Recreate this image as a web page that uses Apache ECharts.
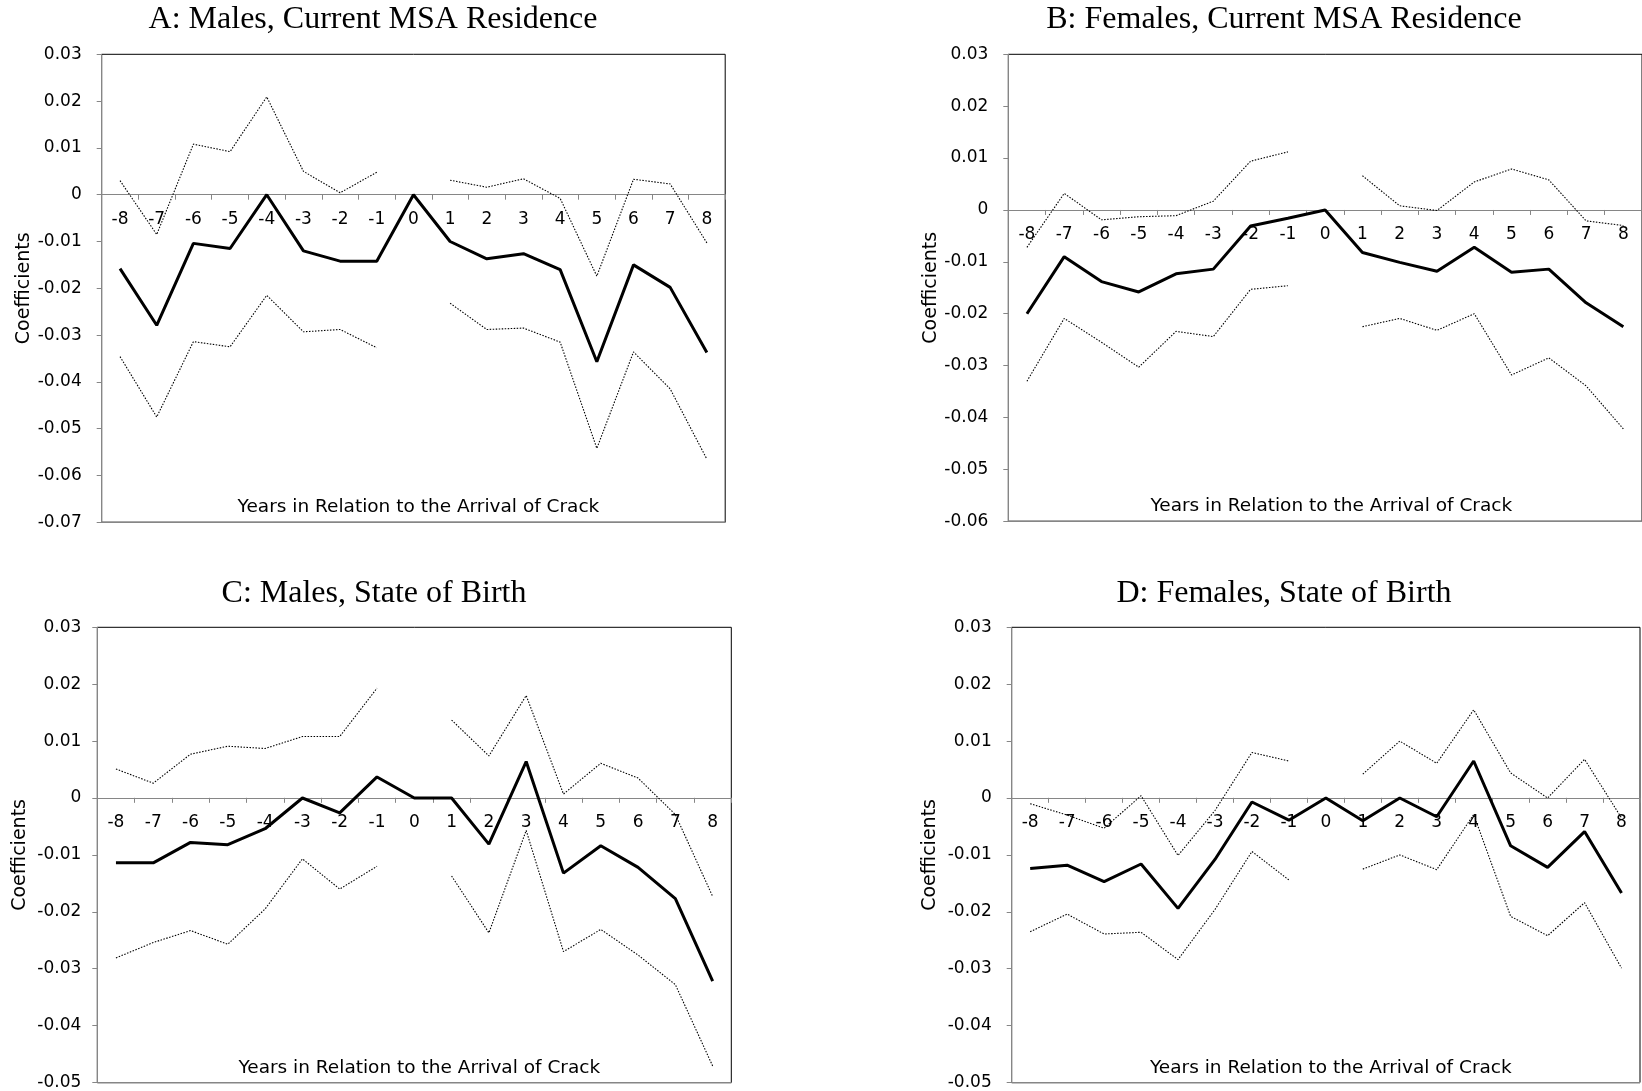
<!DOCTYPE html>
<html><head><meta charset="utf-8">
<script src="https://cdn.jsdelivr.net/npm/echarts@6/dist/echarts.min.js"></script>
<style>html,body{margin:0;padding:0;background:#fff}#c{width:1642px;height:1091px}</style>
</head><body><div id="c"></div>
<script>
// ---- data ----
const years = ['-8','-7','-6','-5','-4','-3','-2','-1','0','1','2','3','4','5','6','7','8'];

const titleA = 'A: Males, Current MSA Residence';
const titleB = 'B: Females, Current MSA Residence';
const titleC = 'C: Males, State of Birth';
const titleD = 'D: Females, State of Birth';
const yName = 'Coefficients';
const xName = 'Years in Relation to the Arrival of Crack';

const coefA  = [-0.0158,-0.0279,-0.0104,-0.0115,0,-0.0120,-0.0142,-0.0142,0,-0.0100,-0.0137,-0.0126,-0.0160,-0.0357,-0.0150,-0.0198,-0.0337];
const upperA = [0.0030,-0.0085,0.0108,0.0092,0.0209,0.0050,0.0004,0.0048,null,0.0031,0.0016,0.0034,-0.0008,-0.0174,0.0033,0.0023,-0.0103];
const lowerA = [-0.0346,-0.0475,-0.0314,-0.0325,-0.0215,-0.0293,-0.0288,-0.0327,null,-0.0232,-0.0288,-0.0285,-0.0315,-0.0542,-0.0336,-0.0415,-0.0565];

const coefB  = [-0.0200,-0.0090,-0.0138,-0.0158,-0.0123,-0.0114,-0.0031,-0.0016,0,-0.0082,-0.0101,-0.0118,-0.0072,-0.0120,-0.0114,-0.0179,-0.0225];
const upperB = [-0.0072,0.0032,-0.0019,-0.0013,-0.0011,0.0017,0.0094,0.0112,null,0.0066,0.0008,-0.0001,0.0054,0.0079,0.0058,-0.0021,-0.0030];
const lowerB = [-0.0330,-0.0209,-0.0255,-0.0303,-0.0234,-0.0244,-0.0153,-0.0146,null,-0.0225,-0.0209,-0.0232,-0.0200,-0.0318,-0.0285,-0.0339,-0.0422];

const coefC  = [-0.0114,-0.0114,-0.0078,-0.0082,-0.0054,0,-0.0026,0.0037,0,0,-0.0081,0.0064,-0.0132,-0.0084,-0.0122,-0.0177,-0.0322];
const upperC = [0.0051,0.0026,0.0077,0.0091,0.0087,0.0108,0.0108,0.0193,null,0.0137,0.0074,0.0180,0.0007,0.0061,0.0035,-0.0029,-0.0173];
const lowerC = [-0.0281,-0.0254,-0.0233,-0.0257,-0.0195,-0.0107,-0.0160,-0.0120,null,-0.0137,-0.0237,-0.0057,-0.0270,-0.0231,-0.0276,-0.0328,-0.0471];

const coefD  = [-0.0124,-0.0118,-0.0147,-0.0116,-0.0194,-0.0108,-0.0007,-0.0039,0,-0.0040,0,-0.0033,0.0065,-0.0084,-0.0122,-0.0059,-0.0167];
const upperD = [-0.0010,-0.0030,-0.0053,0.0004,-0.0101,-0.0022,0.0080,0.0065,null,0.0042,0.0100,0.0061,0.0155,0.0044,0.0000,0.0068,-0.0035];
const lowerD = [-0.0235,-0.0204,-0.0239,-0.0236,-0.0284,-0.0196,-0.0094,-0.0144,null,-0.0125,-0.0100,-0.0126,-0.0029,-0.0208,-0.0242,-0.0184,-0.0299];

const yRangeA = [-0.07, 0.03];
const yRangeB = [-0.06, 0.03];
const yRangeC = [-0.05, 0.03];
const yRangeD = [-0.05, 0.03];

// ---- layout ----
const panels = [
  {title:titleA, coef:coefA, up:upperA, lo:lowerA, yr:yRangeA, grid:{left:101.7, top:54.3, width:623.5, height:468}, tx:373, ty:20, nameGap:68, lblMargin:20},
  {title:titleB, coef:coefB, up:upperB, lo:lowerB, yr:yRangeB, grid:{left:1008.3, top:54.3, width:636, height:467}, tx:1284, ty:20, nameGap:68, lblMargin:20},
  {title:titleC, coef:coefC, up:upperC, lo:lowerC, yr:yRangeC, grid:{left:97.3, top:627.3, width:634, height:455.5}, tx:374, ty:594, nameGap:68, lblMargin:16},
  {title:titleD, coef:coefD, up:upperD, lo:lowerD, yr:yRangeD, grid:{left:1011.7, top:627.3, width:628.3, height:455.5}, tx:1284, ty:594, nameGap:72, lblMargin:20}
];

const SANS = 'DejaVu Sans';
const GRAY = '#868686';
const fmt = v => Math.abs(v) < 1e-9 ? '0' : v.toFixed(2);

const grid = [], xAxis = [], yAxis = [], series = [], graphic = [];
panels.forEach((p, i) => {
  const g = p.grid;
  // the category axis crosses the value axis at 0 (offset measured up from the grid bottom)
  const zeroOffset = -g.height * (0 - p.yr[0]) / (p.yr[1] - p.yr[0]);
  grid.push(Object.assign({show:true, borderColor:'#000', borderWidth:1, backgroundColor:'rgba(0,0,0,0)'}, g));
  xAxis.push({
    type:'category', gridIndex:i, data:years, boundaryGap:true, position:'bottom', offset:zeroOffset,
    axisLine:{onZero:false, lineStyle:{color:GRAY, width:1}},
    axisTick:{show:true, length:5, lineStyle:{color:GRAY}},
    axisLabel:{margin:16, fontSize:17, fontFamily:SANS, color:'#000', interval:0},
    splitLine:{show:false}
  });
  yAxis.push({
    type:'value', gridIndex:i, min:p.yr[0], max:p.yr[1], interval:0.01,
    name:yName, nameLocation:'middle', nameGap:p.nameGap,
    nameTextStyle:{fontFamily:SANS, fontSize:19, color:'#000'},
    axisLine:{show:true, onZero:false, lineStyle:{color:GRAY, width:1}},
    axisTick:{show:true, length:5, lineStyle:{color:GRAY}},
    axisLabel:{margin:p.lblMargin, fontSize:17, fontFamily:SANS, color:'#000', formatter:fmt},
    splitLine:{show:false}
  });
  const dotted = {color:'#000', width:1.1, type:[1.5,1.5]};
  series.push({type:'line', xAxisIndex:i, yAxisIndex:i, data:p.up, showSymbol:false, symbol:'none', lineStyle:dotted, connectNulls:false, z:3, silent:true});
  series.push({type:'line', xAxisIndex:i, yAxisIndex:i, data:p.lo, showSymbol:false, symbol:'none', lineStyle:dotted, connectNulls:false, z:3, silent:true});
  series.push({type:'line', xAxisIndex:i, yAxisIndex:i, data:p.coef, showSymbol:false, symbol:'none', lineStyle:{color:'#000', width:3}, z:4, silent:true});
  graphic.push({type:'text', x:p.tx, y:p.ty, style:{text:p.title, fontFamily:'Liberation Serif', fontSize:32, fill:'#000', align:'center', verticalAlign:'middle'}});
  graphic.push({type:'text', x:g.left + g.width/2 + 5, y:g.top + g.height - 15, style:{text:xName, fontFamily:SANS, fontSize:18.5, fill:'#000', align:'center', verticalAlign:'middle'}});
  // gray bottom edge of plot area
  graphic.push({type:'line', shape:{x1:g.left, y1:g.top+g.height, x2:g.left+g.width, y2:g.top+g.height}, style:{stroke:GRAY, lineWidth:1.5}, z:10});
});

const chart = echarts.init(document.getElementById('c'), null, {renderer:'canvas'});
chart.setOption({animation:false, backgroundColor:'#fff', grid, xAxis, yAxis, series, graphic});
</script>
</body></html>
